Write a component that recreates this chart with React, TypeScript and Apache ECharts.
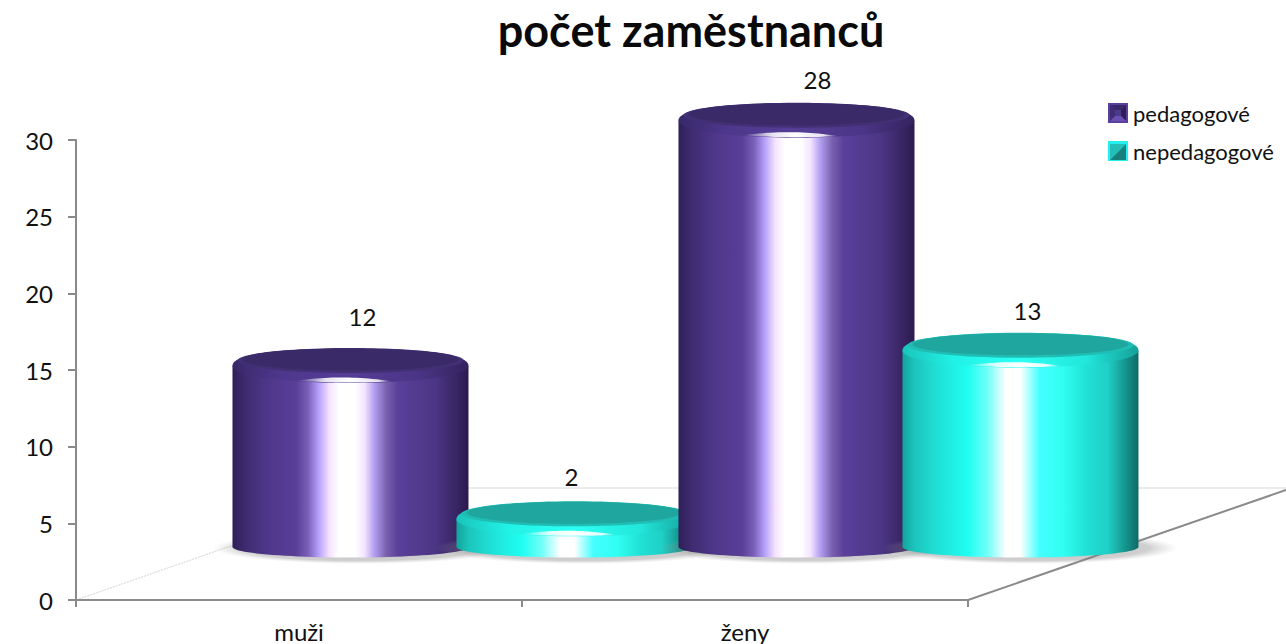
import React, { useEffect, useRef } from "react";
import * as echarts from "echarts";

const titleText = "počet zaměstnanců";
const categories = ["muži", "ženy"];
const seriesNames = ["pedagogové", "nepedagogové"];
const pedagogove = [12, 28];
const nepedagogove = [2, 13];
const yTicks = { min: 0, max: 30, interval: 5 };
const FONT = "Lato, Carlito, 'Noto Sans', sans-serif";

const purpleStops: [number, string][] = [
  [0, "#2f1f58"], [0.06, "#3f2c72"], [0.15, "#4e378a"], [0.27, "#5a3e98"], [0.32, "#7a5fb8"],
  [0.365, "#b4a0fa"], [0.41, "#f6e2ff"], [0.45, "#ffffff"], [0.52, "#ffffff"], [0.56, "#f4e4ff"],
  [0.6, "#b3a0f2"], [0.65, "#7a62b0"], [0.7, "#5a409a"], [0.86, "#4c3584"], [0.96, "#35235f"], [1, "#2a1a4e"],
];
const tealStops: [number, string][] = [
  [0, "#14a29c"], [0.05, "#1cc4bc"], [0.13, "#1fdcd2"], [0.28, "#20fff2"], [0.36, "#70fff8"],
  [0.44, "#ffffff"], [0.5, "#ffffff"], [0.58, "#45ffff"], [0.68, "#30fff2"], [0.78, "#21e0d5"],
  [0.87, "#1fd0c6"], [0.95, "#15908a"], [1, "#0e6a66"],
];
const palette = [
  {
    stops: purpleStops, flat: "#3a2a67", soft: "#413074",
    rim: [[0, "#38286a"], [0.2, "#4d378c"], [0.5, "#553d96"], [0.78, "#4b3586"], [1, "#33235e"]] as [number, string][],
  },
  {
    stops: tealStops, flat: "#1fa79f", soft: "#20bdb4",
    rim: [[0, "#1ac4bc"], [0.22, "#22f2e6"], [0.5, "#2efff4"], [0.78, "#22e6da"], [1, "#15a098"]] as [number, string][],
  },
];

// nudges of the value labels relative to each cylinder's top, as in the picture
const labelNudge: Record<string, [number, number]> = {
  "0-0": [12, -33], "1-0": [-3, -26], "0-1": [21, -24], "1-1": [7, -23],
};

const grad = (stops: [number, string][]) => ({
  type: "linear", x: 0, y: 0, x2: 1, y2: 0,
  colorStops: stops.map(([offset, color]) => ({ offset, color })),
});

const arc = (cx: number, cy: number, rx: number, ry: number, from: number, to: number, n = 48) => {
  const out: number[][] = [];
  for (let i = 0; i <= n; i++) {
    const a = from + ((to - from) * i) / n;
    out.push([cx + rx * Math.cos(a), cy + ry * Math.sin(a)]);
  }
  return out;
};

// rim of the cap: a squarer curve at the back, an ellipse at the front
const capOutline = (cx: number, cy: number, rx: number, ryFront: number, ryBack: number) => {
  const out: number[][] = [];
  for (let i = 0; i <= 60; i++) {
    const a = Math.PI + (Math.PI * i) / 60;
    const c = Math.cos(a);
    const s = Math.sin(a);
    out.push([cx + rx * Math.sign(c) * Math.abs(c) ** 0.72, cy + ryBack * Math.sign(s) * Math.abs(s) ** 0.9]);
  }
  return [...out, ...arc(cx, cy, rx, ryFront, 0, Math.PI)];
};

const RX = 118;
const makeRender = (seriesIdx: number) => (params: any, api: any) => {
  const cat = api.value(0);
  const val = api.value(1);
  const band = api.size([1, 0])[0];
  const cx = api.coord([cat, 0])[0] + band * 0.3643 + (seriesIdx === 0 ? -111 : 113);
  const y0 = api.coord([cat, 0])[1];
  const baseY = y0 - 53;
  const topY = api.coord([cat, val])[1] - 50;
  const order = (cat * 2 + seriesIdx + 1) * 10;
  const p = palette[seriesIdx];
  const body = [
    ...arc(cx, topY, RX, 0, Math.PI, 0, 1),
    ...arc(cx, baseY, RX, 10.5, 0, Math.PI),
  ];
  const nudge = labelNudge[`${seriesIdx}-${cat}`];
  const hw = 48;
  const shift = -6;
  const crescentTop: number[][] = [];
  const crescentBottom: number[][] = [];
  for (let i = 0; i <= 24; i++) {
    const x = -hw + (2 * hw * i) / 24;
    const yOuter = 16.5 * Math.sqrt(1 - ((x + shift) / RX) ** 2);
    const thick = 5 * (1 - (x / hw) ** 2);
    crescentTop.push([cx + shift + x, topY + yOuter - thick]);
    crescentBottom.unshift([cx + shift + x, topY + yOuter]);
  }
  return {
    type: "group",
    children: [
      {
        type: "ellipse", z2: order,
        shape: { cx: cx + 10, cy: baseY + 1, rx: RX + 30, ry: 16 },
        style: {
          fill: {
            type: "radial", x: 0.5, y: 0.5, r: 0.5,
            colorStops: [
              { offset: 0, color: "rgba(120,120,120,0.5)" },
              { offset: 0.8, color: "rgba(130,130,130,0.38)" },
              { offset: 0.92, color: "rgba(160,160,160,0.16)" },
              { offset: 1, color: "rgba(180,180,180,0)" },
            ],
          },
        },
      },
      { type: "polygon", z2: order + 1, shape: { points: body }, style: { fill: grad(p.stops) } },
      {
        type: "polygon", z2: order + 2,
        shape: { points: capOutline(cx, topY, RX, 17, 17) },
        style: { fill: grad(p.rim) },
      },
      {
        type: "ellipse", z2: order + 3,
        shape: { cx, cy: topY - 5.5, rx: RX - 5, ry: 12.5 },
        style: { fill: p.soft },
      },
      {
        type: "ellipse", z2: order + 4,
        shape: { cx, cy: topY - 6.5, rx: RX - 10, ry: 11 },
        style: { fill: p.flat },
      },
      {
        type: "polygon", z2: order + 5,
        shape: { points: [...crescentTop, ...crescentBottom] },
        style: {
          fill: grad([[0, "rgba(255,255,255,0)"], [0.3, "rgba(255,255,255,0.85)"], [0.55, "#ffffff"], [0.85, "rgba(255,255,255,0.85)"], [1, "rgba(255,255,255,0)"]]),
        },
      },
      {
        type: "text", z2: 100,
        style: {
          text: String(val), x: cx + nudge[0], y: topY - 17 + nudge[1],
          align: "center", verticalAlign: "middle", fill: "#111", font: `24px ${FONT}`,
        },
      },
    ],
  };
};

const legendBevel = (x: number, y: number, s: number, i: number, colors: string[]) => {
  const a = i; // inset of the frame
  const b = i + 5;
  const pt = (u: number, v: number) => [x + u, y + v];
  if (colors.length === 5) {
    return [
      { type: "polygon", z: 10, shape: { points: [pt(a, a), pt(s - a, a), pt(s - b, b), pt(b, b)] }, style: { fill: colors[0] } },
      { type: "polygon", z: 10, shape: { points: [pt(s - a, a), pt(s - a, s - a), pt(s - b, s - b), pt(s - b, b)] }, style: { fill: colors[1] } },
      { type: "polygon", z: 10, shape: { points: [pt(a, s - a), pt(s - a, s - a), pt(s - b, s - b), pt(b, s - b)] }, style: { fill: colors[2] } },
      { type: "polygon", z: 10, shape: { points: [pt(a, a), pt(a, s - a), pt(b, s - b), pt(b, b)] }, style: { fill: colors[3] } },
      { type: "rect", z: 10, shape: { x: x + b, y: y + b, width: s - 2 * b, height: s - 2 * b }, style: { fill: colors[4] } },
    ];
  }
  return [
    { type: "polygon", z: 10, shape: { points: [pt(a, a), pt(s - a, a), pt(a, s - a)] }, style: { fill: colors[0] } },
    { type: "polygon", z: 10, shape: { points: [pt(s - a, a), pt(s - a, s - a), pt(a, s - a)] }, style: { fill: colors[1] } },
  ];
};

export default function App() {
  const ref = useRef<HTMLDivElement>(null);
  useEffect(() => {
    const chart = echarts.init(ref.current!, undefined, { renderer: "svg" });
    chart.setOption({
      animation: false,
      backgroundColor: "#ffffff",
      title: {
        text: titleText, left: 686, top: 2, textAlign: "center",
        textStyle: { fontFamily: FONT, fontSize: 45, fontWeight: "bold", color: "#0a0a0a" },
      },
      legend: {
        orient: "vertical", left: 1108, top: 102, padding: 0, itemWidth: 20, itemHeight: 20, itemGap: 16, itemStyle: { borderWidth: 0 },
        selectedMode: false, data: seriesNames.map((name) => ({ name, icon: "rect" })),
        textStyle: { fontFamily: FONT, fontSize: 22, lineHeight: 20, color: "#111" },
      },
      grid: { left: 76, right: 318, top: 140, bottom: 44 },
      xAxis: {
        type: "category", data: categories,
        axisLine: { lineStyle: { color: "#8a8a8a", width: 2 } },
        axisTick: { show: true, length: 7, lineStyle: { color: "#8a8a8a", width: 2 } },
        axisLabel: { fontFamily: FONT, fontSize: 24, lineHeight: 24, color: "#111", margin: 19 },
      },
      yAxis: {
        type: "value", min: yTicks.min, max: yTicks.max, interval: yTicks.interval,
        axisLine: { show: true, lineStyle: { color: "#8a8a8a", width: 2 } },
        axisTick: { show: true, length: 8, lineStyle: { color: "#8a8a8a", width: 2 } },
        splitLine: { show: false },
        axisLabel: { fontFamily: FONT, fontSize: 24, color: "#111", margin: 23 },
      },
      graphic: [
        { type: "line", z: 0, shape: { x1: 76, y1: 600, x2: 397, y2: 488 }, style: { stroke: "#d4d4d4", lineWidth: 1, lineDash: [2, 1] } },
        { type: "line", z: 0, shape: { x1: 397, y1: 488, x2: 1286, y2: 488 }, style: { stroke: "#e4e4e4", lineWidth: 1.5 } },
        { type: "line", z: 0, shape: { x1: 968, y1: 600, x2: 1286, y2: 490 }, style: { stroke: "#8a8a8a", lineWidth: 2 } },
        ...legendBevel(1108, 103, 20, 2, ["#3a2a6c", "#2c1f55", "#6a50b0", "#3f2e74", "#4c3a8e"]),
        ...legendBevel(1108, 142, 20, 2, ["#24bdb8", "#177f7c"]),
      ],
      series: [pedagogove, nepedagogove].map((values, s) => ({
        type: "custom",
        name: seriesNames[s],
        coordinateSystem: "cartesian2d",
        encode: { x: 0, y: 1 },
        itemStyle: { color: s === 0 ? "#5b3f9e" : "#25f0f0" },
        data: values.map((v, c) => [c, v]),
        renderItem: makeRender(s),
      })),
    });
    return () => chart.dispose();
  }, []);
  return <div ref={ref} style={{ position: "fixed", left: 0, top: 0, width: 1286, height: 644 }} />;
}
